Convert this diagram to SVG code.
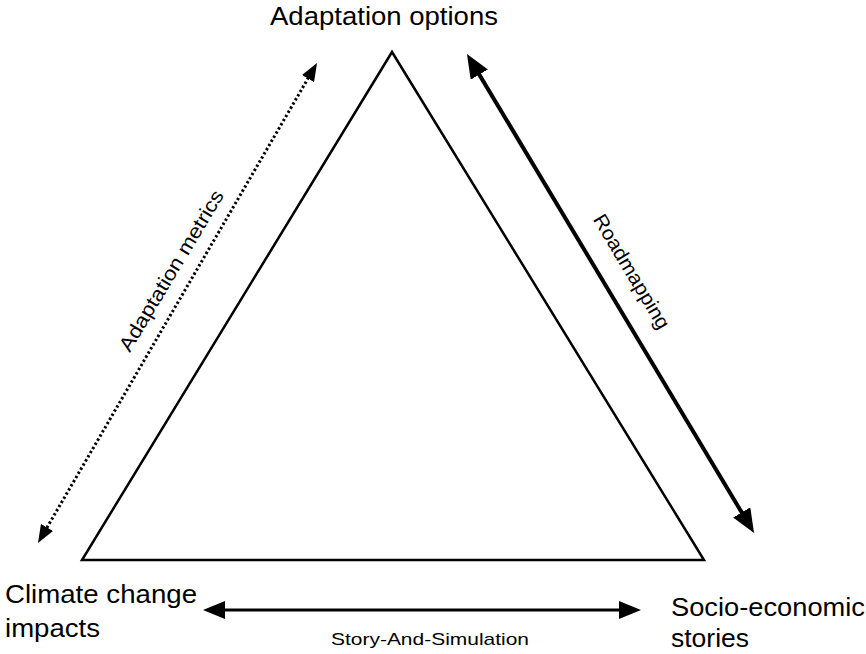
<svg xmlns="http://www.w3.org/2000/svg" width="866" height="654" viewBox="0 0 866 654">
  <style>
    .label { font-family: "Liberation Sans", Arial, sans-serif; fill: #000; }
    .corner { font-size: 26px; }
    .edge { font-size: 20px; }
    .small { font-size: 17px; }
    .tri { fill: none; stroke: #000; stroke-width: 2.5; stroke-linejoin: miter; }
    .conn { fill: none; stroke: #000; }
  </style>
  <defs>
    <marker id="headThick" markerUnits="userSpaceOnUse" markerWidth="24" markerHeight="20" refX="14" refY="10" orient="auto-start-reverse">
      <path d="M0,0 L24,10 L0,20 Z" fill="#000"/>
    </marker>
    <marker id="headDot" markerUnits="userSpaceOnUse" markerWidth="18" markerHeight="14" refX="10" refY="7" orient="auto-start-reverse">
      <path d="M0,0 L18,7 L0,14 Z" fill="#000"/>
    </marker>
    <marker id="headMid" markerUnits="userSpaceOnUse" markerWidth="22" markerHeight="18" refX="14" refY="9" orient="auto-start-reverse">
      <path d="M0,0 L22,9 L0,18 Z" fill="#000"/>
    </marker>
  </defs>

  <rect width="866" height="654" fill="#fff"/>

  <!-- central triangle -->
  <g id="triangle">
    <polygon class="tri" points="392,52 82,560 704,560"/>
  </g>

  <!-- corner nodes -->
  <g id="node-adaptation-options">
    <text class="label corner" x="270" y="25" textLength="228" lengthAdjust="spacingAndGlyphs">Adaptation options</text>
  </g>
  <g id="node-climate-impacts">
    <text class="label corner" x="5" y="603" textLength="192" lengthAdjust="spacingAndGlyphs">Climate change</text>
    <text class="label corner" x="5" y="637" textLength="95" lengthAdjust="spacingAndGlyphs">impacts</text>
  </g>
  <g id="node-socio-economic">
    <text class="label corner" x="671" y="616" textLength="194" lengthAdjust="spacingAndGlyphs">Socio-economic</text>
    <text class="label corner" x="671" y="647" textLength="78" lengthAdjust="spacingAndGlyphs">stories</text>
  </g>

  <!-- connectors -->
  <g id="connectors">
    <line class="conn" x1="42" y1="536.1" x2="313" y2="69.9" stroke-width="3" stroke-dasharray="2.4 2.4" marker-start="url(#headDot)" marker-end="url(#headDot)"/>
    <line class="conn" x1="472.1" y1="62.6" x2="748.9" y2="524.4" stroke-width="4" marker-start="url(#headThick)" marker-end="url(#headThick)"/>
    <line class="conn" x1="211" y1="610" x2="633" y2="610" stroke-width="3" marker-start="url(#headMid)" marker-end="url(#headMid)"/>

    <text class="label edge" transform="translate(172,271) rotate(-59)" x="0" y="6" text-anchor="middle" textLength="184" lengthAdjust="spacingAndGlyphs">Adaptation metrics</text>
    <text class="label edge" transform="translate(631,272) rotate(59)" x="0" y="6" text-anchor="middle" textLength="130" lengthAdjust="spacingAndGlyphs">Roadmapping</text>
    <text class="label small" x="430" y="645" text-anchor="middle" textLength="198" lengthAdjust="spacingAndGlyphs">Story-And-Simulation</text>
  </g>
</svg>
